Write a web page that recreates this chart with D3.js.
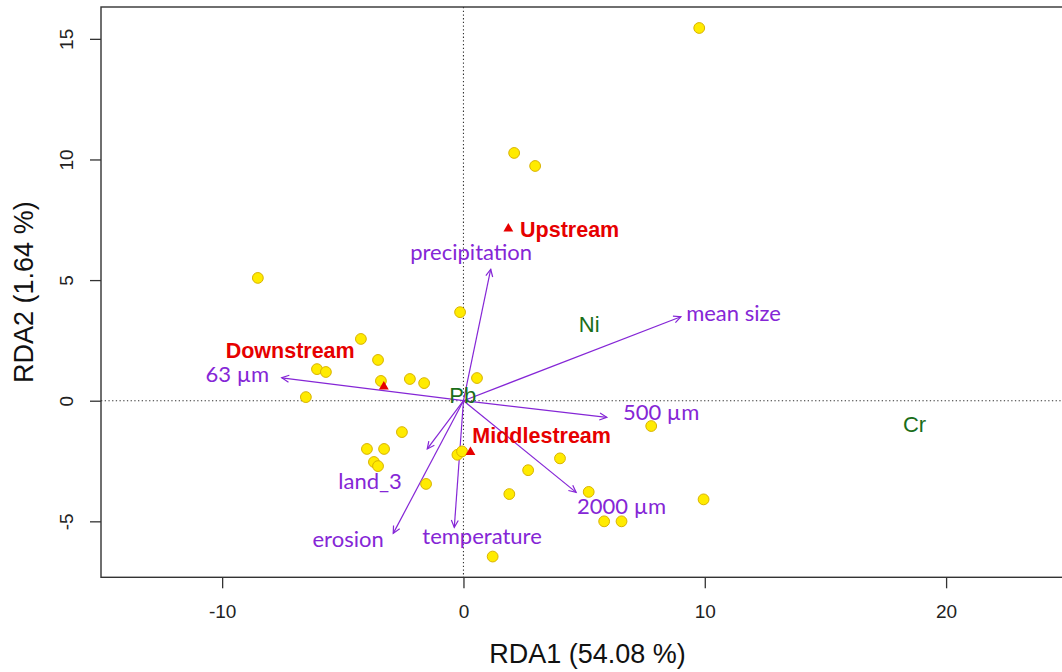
<!DOCTYPE html>
<html>
<head>
<meta charset="utf-8">
<script src="https://cdn.jsdelivr.net/npm/d3@7"></script>
<style>
  html, body { margin: 0; padding: 0; background: #fff; }
  svg { display: block; }
</style>
</head>
<body>
<svg id="chart" width="1062" height="672"></svg>
<script>
// Sample scores (RDA1, RDA2)
const siteX = [9.77, 2.10, 2.97, -8.52, -0.14, -4.25, -3.54, -6.07, -5.70, -3.42, -2.22,
  -1.63, -6.53, 0.56, 7.78, -2.55, -4.00, -3.29, -3.71, -3.54, -1.55, -0.25, -0.06,
  4.00, 2.68, 1.90, 5.19, 5.83, 6.55, 9.95, 1.21];
const siteY = [15.45, 10.27, 9.73, 5.09, 3.67, 2.56, 1.69, 1.31, 1.19, 0.82, 0.90,
  0.73, 0.15, 0.94, -1.05, -1.30, -2.00, -2.00, -2.54, -2.71, -3.45, -2.24, -2.10,
  -2.39, -2.88, -3.87, -3.78, -5.00, -5.00, -4.09, -6.46];

// Group centroids
const groupNames = ["Upstream", "Downstream", "Middlestream"];
const groupX = [1.86, -3.30, 0.29];
const groupY = [7.13, 0.58, -2.13];
const groupLabelX = [4.40, -7.18, 3.24];
const groupLabelY = [7.12, 2.08, -1.42];

// Explanatory variables (biplot arrows)
const envNames = ["precipitation", "mean size", "500 µm", "63 µm", "2000 µm", "temperature", "erosion", "land_3"];
const envX = [1.13, 9.01, 5.94, -7.53, 4.67, -0.38, -2.91, -1.50];
const envY = [5.45, 3.48, -0.69, 0.95, -3.80, -5.25, -5.50, -2.00];
const envLabelX = [0.32, 11.19, 8.19, -9.37, 6.55, 0.77, -4.78, -3.87];
const envLabelY = [6.16, 3.63, -0.50, 1.09, -4.39, -5.61, -5.74, -3.36];

// Response variables (species scores)
const speciesNames = ["Ni", "Pb", "Cr"];
const speciesX = [5.21, -0.03, 18.69];
const speciesY = [3.17, 0.24, -0.98];

const xTicks = [-10, 0, 10, 20];
const yTicks = [-5, 0, 5, 10, 15];
const xTitle = "RDA1 (54.08 %)";
const yTitle = "RDA2 (1.64 %)";

const svg = d3.select("#chart");
const plotL = 101, plotR = 1074, plotT = 7, plotB = 577.3;

const x = d3.scaleLinear().domain([-15.02, 25.3]).range([plotL, plotR]);
const y = d3.scaleLinear().domain([-7.32, 16.32]).range([plotB, plotT]);

const purple = "#8526d6";
const red = "#e60000";
const green = "#1a6e1a";
const axisFont = "Arial, 'Liberation Sans', sans-serif";
const labelFont = "Lato, 'Open Sans', sans-serif";
const tickText = d => String(d);

// Zero reference lines
svg.append("line")
  .attr("x1", plotL).attr("x2", plotR)
  .attr("y1", y(0)).attr("y2", y(0))
  .attr("stroke", "#333").attr("stroke-width", 1.1)
  .attr("stroke-dasharray", "1.3,2.4");
svg.append("line")
  .attr("x1", x(0)).attr("x2", x(0))
  .attr("y1", plotT).attr("y2", plotB)
  .attr("stroke", "#333").attr("stroke-width", 1.1)
  .attr("stroke-dasharray", "1.3,2.4");

// Axes
const xAxis = d3.axisBottom(x).tickValues(xTicks).tickSize(11).tickFormat(tickText);
const gx = svg.append("g").attr("transform", `translate(0,${plotB})`).call(xAxis);
gx.select(".domain").remove();
gx.selectAll(".tick line").attr("stroke", "#333").attr("stroke-width", 1.3);
gx.selectAll(".tick text").attr("font-family", axisFont).attr("font-size", 19).attr("fill", "#222")
  .attr("dy", "0.35em").attr("y", 34);

const yAxis = d3.axisLeft(y).tickValues(yTicks).tickSize(11).tickFormat(tickText);
const gy = svg.append("g").attr("transform", `translate(${plotL},0)`).call(yAxis);
gy.select(".domain").remove();
gy.selectAll(".tick line").attr("stroke", "#333").attr("stroke-width", 1.3);
gy.selectAll(".tick text")
  .attr("font-family", axisFont).attr("font-size", 19).attr("fill", "#222")
  .attr("x", null).attr("dy", null)
  .attr("text-anchor", "middle")
  .attr("transform", "translate(-28,0) rotate(-90)");

// Plot box
svg.append("rect")
  .attr("x", plotL).attr("y", plotT)
  .attr("width", plotR - plotL).attr("height", plotB - plotT)
  .attr("fill", "none").attr("stroke", "#333").attr("stroke-width", 1.4);

// Axis titles
svg.append("text")
  .attr("x", (plotL + plotR) / 2).attr("y", 663)
  .attr("text-anchor", "middle")
  .attr("font-family", axisFont).attr("font-size", 27).attr("fill", "#111")
  .text(xTitle);
svg.append("text")
  .attr("transform", `translate(33,${(plotT + plotB) / 2}) rotate(-90)`)
  .attr("text-anchor", "middle")
  .attr("font-family", axisFont).attr("font-size", 27).attr("fill", "#111")
  .text(yTitle);

// Biplot arrows
const arrows = svg.append("g").attr("stroke", purple).attr("stroke-width", 1.2).attr("fill", "none");
envNames.forEach((name, i) => {
  const x0 = x(0), y0 = y(0), x1 = x(envX[i]), y1 = y(envY[i]);
  const ang = Math.atan2(y1 - y0, x1 - x0);
  const head = 8, spread = Math.PI / 7;
  arrows.append("line").attr("x1", x0).attr("y1", y0).attr("x2", x1).attr("y2", y1);
  arrows.append("path").attr("d",
    `M${x1 - head * Math.cos(ang - spread)},${y1 - head * Math.sin(ang - spread)}` +
    `L${x1},${y1}` +
    `L${x1 - head * Math.cos(ang + spread)},${y1 - head * Math.sin(ang + spread)}`);
});

// Sample points
svg.append("g").selectAll("circle")
  .data(siteX.map((v, i) => [v, siteY[i]]))
  .join("circle")
  .attr("cx", d => x(d[0])).attr("cy", d => y(d[1]))
  .attr("r", 5.4)
  .attr("fill", "#ffeb00").attr("stroke", "#d9b300").attr("stroke-width", 1);

// Group centroids
svg.append("g").selectAll("path")
  .data(groupX.map((v, i) => [v, groupY[i]]))
  .join("path")
  .attr("transform", d => `translate(${x(d[0])},${y(d[1])})`)
  .attr("d", d3.symbol(d3.symbolTriangle, 42))
  .attr("fill", red);

// Variable labels
svg.append("g").selectAll("text")
  .data(envNames)
  .join("text")
  .attr("x", (d, i) => x(envLabelX[i])).attr("y", (d, i) => y(envLabelY[i]))
  .attr("dy", "0.35em").attr("text-anchor", "middle")
  .attr("font-family", labelFont).attr("font-size", 22).attr("fill", purple)
  .text(d => d);

// Species labels
svg.append("g").selectAll("text")
  .data(speciesNames)
  .join("text")
  .attr("x", (d, i) => x(speciesX[i])).attr("y", (d, i) => y(speciesY[i]))
  .attr("dy", "0.36em").attr("text-anchor", "middle")
  .attr("font-family", axisFont).attr("font-size", 22).attr("fill", green)
  .text(d => d);

// Group labels
svg.append("g").selectAll("text")
  .data(groupNames)
  .join("text")
  .attr("x", (d, i) => x(groupLabelX[i])).attr("y", (d, i) => y(groupLabelY[i]))
  .attr("dy", "0.36em").attr("text-anchor", "middle")
  .attr("font-family", axisFont).attr("font-weight", "bold").attr("font-size", 21.5).attr("fill", red)
  .text(d => d);
</script>
</body>
</html>
